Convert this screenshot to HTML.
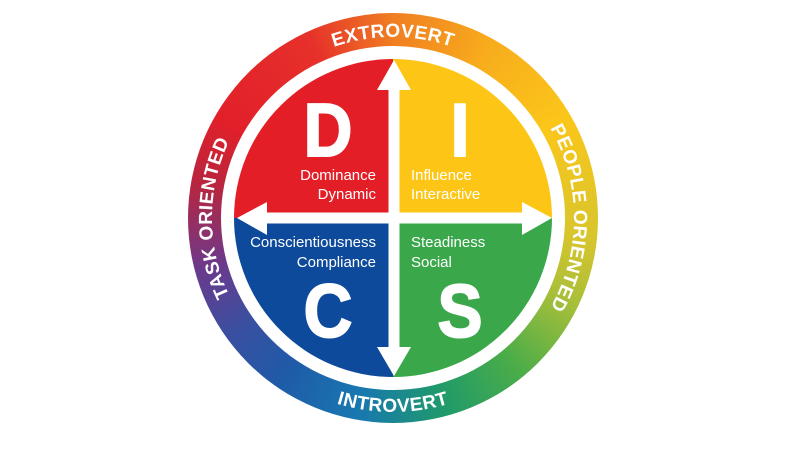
<!DOCTYPE html>
<html><head><meta charset="utf-8"><style>
html,body{margin:0;padding:0;background:#fff;}
svg{display:block;}
</style></head><body>
<svg width="800" height="450" viewBox="0 0 800 450" xmlns="http://www.w3.org/2000/svg">
<defs>
<clipPath id="inner"><circle cx="393" cy="218" r="159"/></clipPath>
<path id="pTop" d="M 212,218 A 181 181 0 0 1 574,218"/>
<path id="pRight" d="M 393,37 A 181 181 0 0 1 393,399"/>
<path id="pLeft" d="M 393,399 A 181 181 0 0 1 393,37"/>
<path id="pBot" d="M 199,218 A 194 194 0 0 0 587,218"/>
</defs>
<foreignObject x="188" y="13" width="410" height="410">
<div xmlns="http://www.w3.org/1999/xhtml" style="width:410px;height:410px;border-radius:50%;background:conic-gradient(from 0deg,#f07e22 0deg,#f8ad1c 30deg,#fbc61a 60deg,#d9c52c 95deg,#a9bf3a 115deg,#4cad48 140deg,#1f9a6a 165deg,#1878b0 190deg,#1f5aa8 215deg,#3b4fa0 235deg,#6b3a8c 255deg,#b8253f 280deg,#e2202a 300deg,#e6302a 335deg,#f07e22 360deg);"></div>
</foreignObject>
<circle cx="393" cy="218" r="172" fill="#fff"/>
<g clip-path="url(#inner)">
<rect x="230" y="55" width="163" height="163" fill="#e31e26"/>
<rect x="393" y="55" width="170" height="163" fill="#fdc616"/>
<rect x="230" y="218" width="163" height="170" fill="#0d4a9b"/>
<rect x="393" y="218" width="170" height="170" fill="#3aa84a"/>
</g>
<g fill="#fff">
<rect x="388.5" y="85" width="11" height="266"/>
<rect x="262" y="212.5" width="265" height="11"/>
<polygon points="394,60 377,90 411,90"/>
<polygon points="394,376 377,347 411,347"/>
<polygon points="237,218 267,202 267,235"/>
<polygon points="552,218 522,202 522,235"/>
</g>
<g font-family="Liberation Sans, sans-serif" font-weight="bold" fill="#fff" stroke="#fff" stroke-width="2" font-size="75" text-anchor="middle">
<text x="328" y="156" transform="translate(328 0) scale(0.9 1) translate(-328 0)">D</text>
<text x="460" y="156" transform="translate(460 0) scale(0.9 1) translate(-460 0)">I</text>
<text x="328" y="337" transform="translate(328 0) scale(0.9 1) translate(-328 0)">C</text>
<text x="460" y="337" transform="translate(460 0) scale(0.9 1) translate(-460 0)">S</text>
</g>
<g font-family="Liberation Sans, sans-serif" fill="#fff" font-size="15">
<text x="376" y="180" text-anchor="end">Dominance</text>
<text x="376" y="199" text-anchor="end">Dynamic</text>
<text x="411" y="180">Influence</text>
<text x="411" y="199">Interactive</text>
<text x="376" y="247" text-anchor="end">Conscientiousness</text>
<text x="376" y="267" text-anchor="end">Compliance</text>
<text x="411" y="247">Steadiness</text>
<text x="411" y="267">Social</text>
</g>
<g font-family="Liberation Sans, sans-serif" font-weight="bold" fill="#fff" font-size="19" letter-spacing="0.5">
<text text-anchor="middle"><textPath href="#pTop" startOffset="50%">EXTROVERT</textPath></text>
<text text-anchor="middle"><textPath href="#pRight" startOffset="50%">PEOPLE ORIENTED</textPath></text>
<text text-anchor="middle"><textPath href="#pLeft" startOffset="50%">TASK ORIENTED</textPath></text>
<text text-anchor="middle"><textPath href="#pBot" startOffset="50%">INTROVERT</textPath></text>
</g>
</svg>
</body></html>
